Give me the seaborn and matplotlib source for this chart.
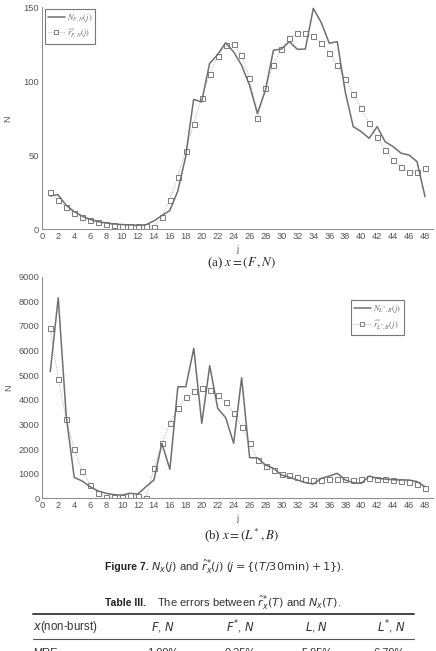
import matplotlib
matplotlib.use("Agg")
import matplotlib.pyplot as plt
import seaborn as sns
import pandas as pd
from matplotlib.lines import Line2D

# ---------------- data ----------------
j = list(range(1, 49))

n_fn = [22.5, 23.4, 16.4, 12, 9, 6.8, 5.2, 4.3, 3.6, 3.2, 3.0, 2.7, 3.0, 5.6, 9.2, 12.6,
        25.5, 49, 87.8, 86, 112, 118, 126, 120, 111, 97.5, 78.4, 94, 121, 121.8, 126.8,
        121.6, 121.8, 149.3, 139.6, 125.7, 126.8, 93, 69.4, 66, 61.5, 69.4, 59.2, 55.9,
        51.4, 50.2, 45.7, 22]
r_fn = [25, 19.8, 15, 11.3, 8.6, 6.3, 4.7, 3.8, 2.9, 2.5, 2.3, 2.0, 2.0, 1.8, 8.3, 19.8,
        35.4, 53, 71, 89, 104.7, 117, 124.5, 125.2, 118, 102, 75.2, 95.3, 111, 122, 129,
        132.9, 132.9, 130.4, 125.9, 119, 110.8, 101.8, 91.7, 82, 71.6, 62.4, 53.8, 47,
        41.9, 38.7, 38.7, 41.4]

n_lb = [5140, 8144, 3350, 850, 700, 470, 296, 203, 146, 130, 203, 175, 471, 744, 2233,
        1177, 4531, 4531, 6090, 3045, 5384, 3654, 3272, 2233, 4896, 1650, 1640, 1352,
        1218, 946, 852, 744, 634, 580, 812, 905, 1015, 744, 634, 607, 905, 812, 784,
        755, 744, 744, 676, 471]
r_lb = [6926, 4831, 3207, 1989, 1108, 540, 228, 65, 40, 65, 120, 100, 20, 1218, 2233,
        3045, 3654, 4100, 4356, 4466, 4410, 4194, 3898, 3477, 2907, 2265, 1550, 1324,
        1160, 987, 946, 852, 784, 755, 760, 770, 765, 770, 760, 765, 825, 784, 784,
        755, 715, 650, 568, 430]

xticks = list(range(0, 49, 2))
yticks_a = [0, 50, 100, 150]
yticks_b = list(range(0, 9001, 1000))

df_a = pd.DataFrame({"j": j, "N": n_fn, "r": r_fn})
df_b = pd.DataFrame({"j": j, "N": n_lb, "r": r_lb})

# ---------------- style ----------------
sns.set_style("white")
plt.rcParams["font.family"] = ["Liberation Sans", "DejaVu Sans"]
plt.rcParams["mathtext.fontset"] = "stix"

W, H = 436, 651
fig = plt.figure(figsize=(W / 100, H / 100), dpi=100)

LINE_C = "#6f6f6f"
DOT_C = "#9a9a9a"
MK_C = "#7a7a7a"
TXT_C = "#555555"


def make_axes(left, top_px, bottom_px, right_px=433):
    return fig.add_axes([left / W, (H - bottom_px) / H,
                         (right_px - left) / W, (bottom_px - top_px) / H])


def draw(ax, df, yticks, ymax, label_n, label_r, leg_xy):
    sns.lineplot(data=df, x="j", y="r", ax=ax, color=DOT_C, linewidth=0.6,
                 linestyle=":", marker="s", markersize=3.6,
                 markerfacecolor="white", markeredgecolor=MK_C,
                 markeredgewidth=0.7, zorder=2)
    sns.lineplot(data=df, x="j", y="N", ax=ax, color=LINE_C, linewidth=1.1,
                 zorder=3)
    ax.set_xlim(0, 49)
    ax.set_ylim(0, ymax)
    ax.set_xticks(xticks)
    ax.set_yticks(yticks)
    ax.tick_params(direction="in", length=3, width=0.6, colors="#777777",
                   labelsize=6.7, labelcolor=TXT_C, pad=2)
    for s in ["top", "right"]:
        ax.spines[s].set_visible(False)
    for s in ["left", "bottom"]:
        ax.spines[s].set_color("#8a8a8a")
        ax.spines[s].set_linewidth(0.7)
    ax.set_xlabel("j", fontsize=6.5, color=TXT_C)
    ax.set_ylabel("N", fontsize=6.5, color=TXT_C)
    ax.xaxis.set_label_coords(0.5, -0.07)
    ax.yaxis.set_label_coords(-0.075, 0.5)
    handles = [
        Line2D([], [], color=LINE_C, linewidth=1.1),
        Line2D([], [], color=DOT_C, linewidth=0.6, linestyle=":", marker="s",
               markersize=3.4, markerfacecolor="white", markeredgecolor=MK_C,
               markeredgewidth=0.7),
    ]
    leg = ax.legend(handles, [label_n, label_r], loc="upper left",
                    bbox_to_anchor=(leg_xy[0] / W, 1 - leg_xy[1] / H),
                    bbox_transform=fig.transFigure, fontsize=6,
                    frameon=True, fancybox=False, framealpha=1,
                    edgecolor="#777777", handlelength=2.0, handletextpad=0.3,
                    borderpad=0.35, labelspacing=0.35, borderaxespad=0)
    leg.get_frame().set_linewidth(0.8)
    for t in leg.get_texts():
        t.set_color("#666666")


ax1 = make_axes(42, 7.3, 229.3)
draw(ax1, df_a, yticks_a, 150, r"$N_{F,N}(j)$", r"$\hat{r}^{*}_{F,N}(j)$", (45, 9))

ax2 = make_axes(42.3, 276.7, 498.3)
draw(ax2, df_b, yticks_b, 9000, r"$N_{L^{*},B}(j)$", r"$\hat{r}^{*}_{L^{*},B}(j)$",
     (351, 300))

# ---------------- captions ----------------
serif = ["Liberation Serif", "DejaVu Serif"]
fig.text(241 / W, 1 - 263 / H, r"(a) $x = (F\,,N)$", ha="center", va="center",
         fontsize=9.3, family=serif, color="#222222", math_fontfamily="stix")
fig.text(241 / W, 1 - 535 / H, r"(b) $x = (L^{*}\,,B)$", ha="center",
         va="center", fontsize=9.3, family=serif, color="#222222",
         math_fontfamily="stix")

CAP_C = "#333333"
fig.text(105 / W, 1 - 567 / H, "Figure 7.", ha="left", va="center", fontsize=7.5,
         fontweight="bold", color="#222222")
fig.text(151 / W, 1 - 567 / H,
         r"$N_x(j)$ and $\hat{r}^{*}_{x}(j)$ ($j = \{(T/30\mathrm{min}) + 1\}$).",
         ha="left", va="center", fontsize=8.1, color=CAP_C,
         math_fontfamily="dejavusans")

fig.text(105 / W, 1 - 603 / H, "Table III.", ha="left", va="center", fontsize=7.5,
         fontweight="bold", color="#222222")
fig.text(157 / W, 1 - 603 / H,
         r"The errors between $\hat{r}^{*}_{x}(T)$ and $N_x(T)$.",
         ha="left", va="center", fontsize=8.1, color=CAP_C,
         math_fontfamily="dejavusans")

# ---------------- table ----------------
fig.add_artist(Line2D([33 / W, 414 / W], [1 - 614 / H, 1 - 614 / H],
                      transform=fig.transFigure, color="#444444", linewidth=1.4))
fig.add_artist(Line2D([33 / W, 414 / W], [1 - 639 / H, 1 - 639 / H],
                      transform=fig.transFigure, color="#555555", linewidth=0.8))

headers = [r"$x$(non-burst)", r"$F$, $N$", r"$F^{*}$, $N$", r"$L$, $N$", r"$L^{*}$, $N$"]
hx = [33, 163, 240, 317, 405]
has = ["left", "center", "center", "center", "right"]
for t, x, a in zip(headers, hx, has):
    fig.text(x / W, 1 - 627 / H, t, ha=a, va="center", fontsize=8.3, color=CAP_C,
             math_fontfamily="dejavusans")

row_label = "MRE"
row_vals = ["1.09%", "0.25%", "5.95%", "6.79%"]
fig.text(33 / W, 1 - 647.5 / H, row_label, ha="left", va="top", fontsize=8,
         color=CAP_C)
for t, x, a in zip(row_vals, hx[1:], has[1:]):
    fig.text(x / W, 1 - 647.5 / H, t, ha=a, va="top", fontsize=8, color=CAP_C)

fig.savefig("out.png", dpi=100)
